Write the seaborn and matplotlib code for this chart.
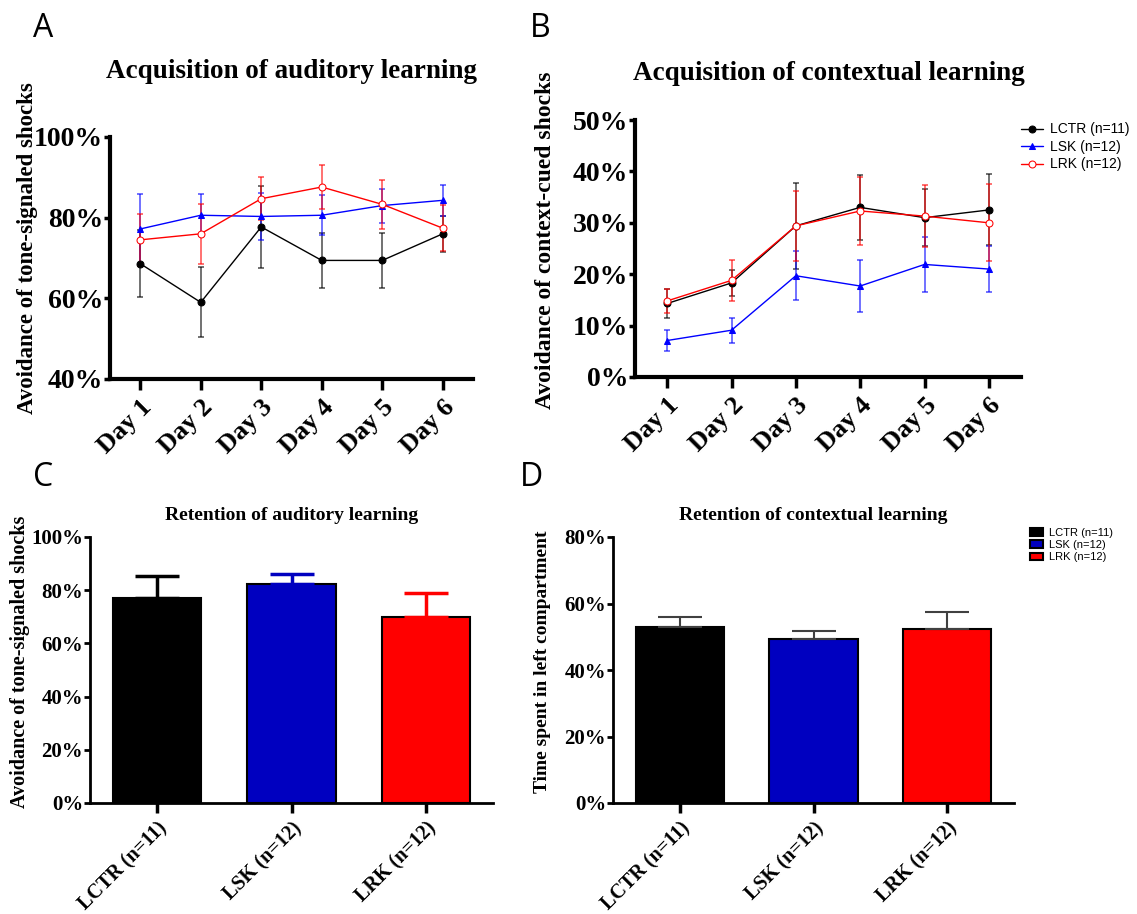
import numpy as np
import pandas as pd
import seaborn as sns
from matplotlib import pyplot as plt
from matplotlib.ticker import FuncFormatter

# values (percent)
days = ['Day 1', 'Day 2', 'Day 3', 'Day 4', 'Day 5', 'Day 6']
groups = ['LCTR (n=11)', 'LSK (n=12)', 'LRK (n=12)']
colors = ['#000000', '#0000ff', '#ff0000']
bar_colors = ['#000000', '#0000c0', '#ff0000']

aud_lctr = [68.6, 59.0, 77.7, 69.4, 69.4, 76.0]
aud_lctr_sem = [8.3, 8.7, 10.1, 6.8, 6.8, 4.5]
aud_lsk = [77.2, 80.6, 80.3, 80.6, 83.0, 84.3]
aud_lsk_sem = [8.6, 5.2, 5.8, 5.0, 4.2, 3.9]
aud_lrk = [74.5, 76.0, 84.7, 87.6, 83.3, 77.4]
aud_lrk_sem = [6.5, 7.4, 5.4, 5.5, 6.0, 5.7]

ctx_lctr = [14.3, 18.3, 29.4, 33.0, 31.0, 32.5]
ctx_lctr_sem = [2.9, 2.6, 8.3, 6.3, 5.5, 6.9]
ctx_lsk = [7.1, 9.1, 19.7, 17.7, 21.9, 21.0]
ctx_lsk_sem = [2.1, 2.4, 4.8, 5.1, 5.4, 4.5]
ctx_lrk = [14.8, 18.8, 29.4, 32.3, 31.3, 30.0]
ctx_lrk_sem = [2.3, 4.0, 6.8, 6.7, 6.0, 7.5]

ret_aud = [77.1, 82.5, 69.8]
ret_aud_sem = [8.3, 3.5, 9.2]
ret_ctx = [52.8, 49.2, 52.3]
ret_ctx_sem = [3.0, 2.5, 5.2]

sns.set_theme(style='ticks')
plt.rcParams['font.family'] = ['Liberation Serif', 'DejaVu Serif']
plt.rcParams['font.weight'] = 'bold'
for k in ['text.color', 'axes.labelcolor', 'xtick.color', 'ytick.color',
          'axes.edgecolor']:
    plt.rcParams[k] = 'black'

fig = plt.figure(figsize=(11.37, 9.14), dpi=100)
W, H = 1137, 914


def px_axes(l, t, r, b):
    return fig.add_axes([l / W, 1 - b / H, (r - l) / W, (b - t) / H])


def pct(v, pos):
    return f'{v:.0f}%'


def style_markers(lines):
    # seaborn draws white marker edges; use the series colour instead,
    # LRK gets an open circle
    for ln, c in zip(lines, colors):
        ln.set_markeredgecolor(c)
        ln.set_markerfacecolor(c)
        ln.set_markersize(5)
    lines[2].set_markerfacecolor('white')


def line_panel(ax, series, sems, ylim, yticks):
    rows = []
    for g, vals in zip(groups, series):
        for i, v in enumerate(vals):
            rows.append({'day': i, 'value': v, 'group': g})
    df = pd.DataFrame(rows)
    sns.lineplot(data=df, x='day', y='value', hue='group', style='group',
                 palette=colors, markers=['o', '^', 'o'], dashes=False,
                 linewidth=1, ax=ax, legend=True, zorder=3)
    style_markers(ax.get_lines()[:3])
    for vals, err, c in zip(series, sems, colors):
        ax.errorbar(range(len(days)), vals, yerr=err, fmt='none', ecolor=c,
                    elinewidth=1.2, capsize=2.5, capthick=1.2, alpha=0.65)
    ax.set_xlim(-0.5, 5.5)
    ax.set_ylim(*ylim)
    ax.set_yticks(yticks)
    ax.yaxis.set_major_formatter(FuncFormatter(pct))
    ax.set_xticks(range(len(days)))
    ax.set_xticklabels(days, rotation=45, ha='right', va='top',
                       rotation_mode='anchor', fontsize=19, fontweight='bold')
    ax.tick_params(axis='y', labelsize=20, width=2.5, length=4, pad=1)
    ax.tick_params(axis='x', width=2.5, length=8, pad=4)
    for lab in ax.get_yticklabels():
        lab.set_fontweight('bold')
    for s in ['left', 'bottom']:
        ax.spines[s].set_linewidth(3)
    sns.despine(ax=ax)
    ax.set_xlabel('')


def bar_panel(ax, vals, sems, ylim, yticks, ecolors, elw):
    df = pd.DataFrame({'group': groups, 'value': vals})
    sns.barplot(data=df, x='group', y='value', hue='group', palette=bar_colors,
                saturation=1, width=0.66, edgecolor='black', linewidth=1.5,
                errorbar=None, legend=True, ax=ax)
    for i, (v, e, c) in enumerate(zip(vals, sems, ecolors)):
        ax.errorbar(i, v, yerr=[[0], [e]], fmt='none', ecolor=c,
                    elinewidth=elw, capsize=16, capthick=elw, zorder=1)
    ax.set_xlim(-0.5, 2.5)
    ax.set_ylim(*ylim)
    ax.set_yticks(yticks)
    ax.yaxis.set_major_formatter(FuncFormatter(pct))
    ax.set_xticks(range(3))
    ax.set_xticklabels(groups, rotation=45, ha='right', va='top',
                       rotation_mode='anchor', fontsize=14.5, fontweight='bold')
    ax.tick_params(axis='y', labelsize=15, width=2, length=4, pad=1)
    ax.tick_params(axis='x', width=2.5, length=7, pad=4)
    for lab in ax.get_yticklabels():
        lab.set_fontweight('bold')
    for s in ['left', 'bottom']:
        ax.spines[s].set_linewidth(2)
    sns.despine(ax=ax)
    ax.set_xlabel('')


# Panel A
axA = px_axes(110, 137, 473, 379)
line_panel(axA, [aud_lctr, aud_lsk, aud_lrk],
           [aud_lctr_sem, aud_lsk_sem, aud_lrk_sem], (40, 100), [40, 60, 80, 100])
axA.get_legend().remove()
axA.set_ylabel('Avoidance of tone-signaled shocks', fontsize=16.5,
               fontweight='bold', va='center')
axA.yaxis.set_label_coords(-0.226, 0.54)

# Panel B
axB = px_axes(635, 120, 1021, 377)
line_panel(axB, [ctx_lctr, ctx_lsk, ctx_lrk],
           [ctx_lctr_sem, ctx_lsk_sem, ctx_lrk_sem], (0, 50), [0, 10, 20, 30, 40, 50])
h, l = axB.get_legend_handles_labels()
axB.get_legend().remove()
lg = axB.legend(h, l, loc='upper left', bbox_to_anchor=(1008 / W, 1 - 110 / H),
                bbox_transform=fig.transFigure, frameon=False, handlelength=1.6,
                handletextpad=0.5, labelspacing=0.25,
                prop={'family': 'Liberation Sans', 'size': 10, 'weight': 'normal'})
style_markers(lg.legend_handles)
axB.set_ylabel('Avoidance of context-cued shocks', fontsize=17,
               fontweight='bold', va='center')
axB.yaxis.set_label_coords(-0.233, 0.533)

# Panel C
axC = px_axes(90, 537, 493, 803)
bar_panel(axC, ret_aud, ret_aud_sem, (0, 100), [0, 20, 40, 60, 80, 100],
          bar_colors, 2.5)
axC.get_legend().remove()
axC.set_ylabel('Avoidance of tone-signaled shocks', fontsize=14.5,
               fontweight='bold', va='center')
axC.yaxis.set_label_coords(-0.173, 0.53)

# Panel D
axD = px_axes(613, 537, 1014, 803)
bar_panel(axD, ret_ctx, ret_ctx_sem, (0, 80), [0, 20, 40, 60, 80],
          ['#404040'] * 3, 1.5)
h, l = axD.get_legend_handles_labels()
axD.get_legend().remove()
axD.legend(h, l, loc='upper left', bbox_to_anchor=(1020 / W, 1 - 518 / H),
           bbox_transform=fig.transFigure, frameon=False, handlelength=1.2,
           handleheight=0.7, handletextpad=0.5, labelspacing=0.2,
           prop={'family': 'Liberation Sans', 'size': 8, 'weight': 'normal'})
axD.set_ylabel('Time spent in left compartment', fontsize=14,
               fontweight='bold', va='center')
axD.yaxis.set_label_coords(-0.175, 0.53)

# titles
fig.text(291 / W, 1 - 78 / H, 'Acquisition of auditory learning', ha='center',
         va='baseline', fontsize=19.5, fontweight='bold')
fig.text(829 / W, 1 - 80 / H, 'Acquisition of contextual learning', ha='center',
         va='baseline', fontsize=19.5, fontweight='bold')
fig.text(292 / W, 1 - 520 / H, 'Retention of auditory learning', ha='center',
         va='baseline', fontsize=14, fontweight='bold')
fig.text(813 / W, 1 - 520 / H, 'Retention of contextual learning', ha='center',
         va='baseline', fontsize=14, fontweight='bold')

# panel letters
for letter, x, y in [('A', 33, 37), ('B', 530, 37), ('C', 33, 486), ('D', 520, 486)]:
    fig.text(x / W, 1 - y / H, letter, ha='left', va='baseline', fontsize=23,
             family='Open Sans', fontweight='normal')

fig.savefig('out.png', dpi=100)
